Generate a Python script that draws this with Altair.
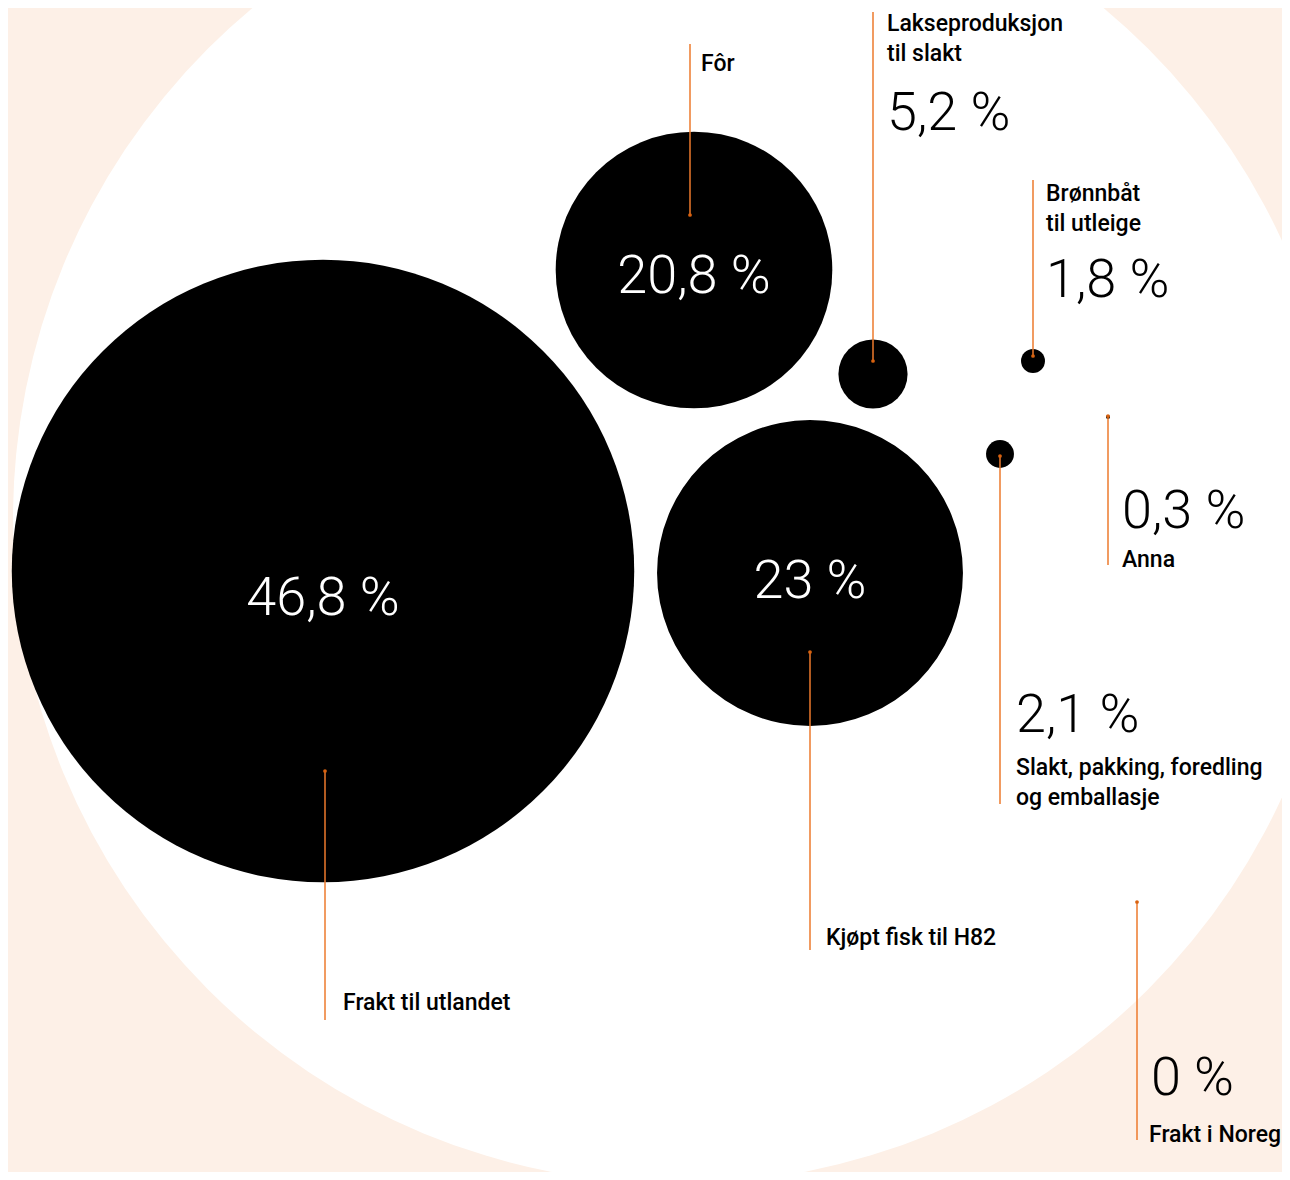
import altair as alt
import pandas as pd

# ---- data ----
categories = [
    "Frakt til utlandet",
    "Kjøpt fisk til H82",
    "Fôr",
    "Lakseproduksjon til slakt",
    "Slakt, pakking, foredling og emballasje",
    "Brønnbåt til utleige",
    "Anna",
    "Frakt i Noreg",
]
values = [46.8, 23.0, 20.8, 5.2, 2.1, 1.8, 0.3, 0.0]
name_lines = [
    ["Frakt til utlandet"],
    ["Kjøpt fisk til H82"],
    ["Fôr"],
    ["Lakseproduksjon", "til slakt"],
    ["Slakt, pakking, foredling", "og emballasje"],
    ["Brønnbåt", "til utleige"],
    ["Anna"],
    ["Frakt i Noreg"],
]
total_value = 100

# ---- layout (bubble centres, leader lines, label anchors; pixel space) ----
bubble_x = [323, 810, 694, 873, 1000, 1033, 1108, 1137]
bubble_y = [571, 573, 270, 374, 454, 361, 417, 902]
total_x, total_y = 678, 519

lead_x = [325, 810, 690, 873, 1000, 1033, 1108, 1137]
lead_dot_y = [771, 652, 215, 361, 456, 356, 416, 902]
lead_end_y = [1020, 950, 44, 12, 804, 180, 565, 1140]

name_x = [343, 826, 701, 887, 1016, 1046, 1122, 1149]
name_y = [1010, 945, 71, 31, 775, 201, 567, 1142]

pct_x = [323, 810, 694, 887, 1016, 1046, 1122, 1151]
pct_y = [615, 598, 293, 130, 732, 297, 528, 1095]
pct_inside = [True, True, True, False, False, False, False, False]

LINE_H = 30
BG = "#fdf0e7"
ORANGE = "#ec7a2c"
FONT = "Roboto"


def fmt(v):
    return f"{v:g}".replace(".", ",") + " %"


bubbles = pd.DataFrame({
    "category": categories, "value": values, "x": bubble_x, "y": bubble_y,
})
total = pd.DataFrame({"category": ["Totalt"], "value": [total_value],
                      "x": [total_x], "y": [total_y]})
leaders = pd.DataFrame({"category": categories, "x": lead_x,
                        "y": lead_dot_y, "y2": lead_end_y})
pcts = pd.DataFrame({"category": categories, "label": [fmt(v) for v in values],
                     "x": pct_x, "y": pct_y, "inside": pct_inside})
name_rows = []
for cat, lines, nx, ny in zip(categories, name_lines, name_x, name_y):
    for i, line in enumerate(lines):
        name_rows.append({"category": cat, "text": line, "x": nx, "y": ny + i * LINE_H})
names = pd.DataFrame(name_rows)

W, H = 1274, 1164
X = alt.Scale(domain=[8, 8 + W])
Y = alt.Scale(domain=[8, 8 + H], reverse=True)
S = alt.Scale(type="pow", exponent=2, domain=[0, 100], range=[0, (2 * 665) ** 2])

xe = alt.X("x:Q", scale=X, axis=None)
ye = alt.Y("y:Q", scale=Y, axis=None)
se = alt.Size("value:Q", scale=S, legend=None)

total_layer = alt.Chart(total).mark_circle(color="white", opacity=1).encode(x=xe, y=ye, size=se)
bubble_layer = alt.Chart(bubbles).mark_circle(color="black", opacity=1).encode(x=xe, y=ye, size=se)
rule_layer = alt.Chart(leaders).mark_rule(color=ORANGE, strokeWidth=1.5).encode(
    x=xe, y=ye, y2="y2:Q")
dot_layer = alt.Chart(leaders).mark_circle(color="#d9620f", opacity=1, size=14).encode(x=xe, y=ye)

pct_in = alt.Chart(pcts).transform_filter("datum.inside").mark_text(
    font=FONT, fontSize=54, fontWeight=300, color="white", align="center",
    baseline="alphabetic").encode(x=xe, y=ye, text="label:N")
pct_out = alt.Chart(pcts).transform_filter("!datum.inside").mark_text(
    font=FONT, fontSize=54, fontWeight=300, color="black", align="left",
    baseline="alphabetic").encode(x=xe, y=ye, text="label:N")
name_layer = alt.Chart(names).mark_text(
    font=FONT, fontSize=23, fontWeight=500, color="black",
    align="left", baseline="alphabetic").encode(x=xe, y=ye, text="text:N")

chart = alt.layer(
    total_layer, bubble_layer, rule_layer, dot_layer, pct_in, pct_out, name_layer
).properties(
    width=W, height=H, background=BG, padding=0,
    autosize=alt.AutoSizeParams(type="none"),
).configure_view(stroke=None)

chart.save("out.html", embed_options={"renderer": "svg", "actions": False})
